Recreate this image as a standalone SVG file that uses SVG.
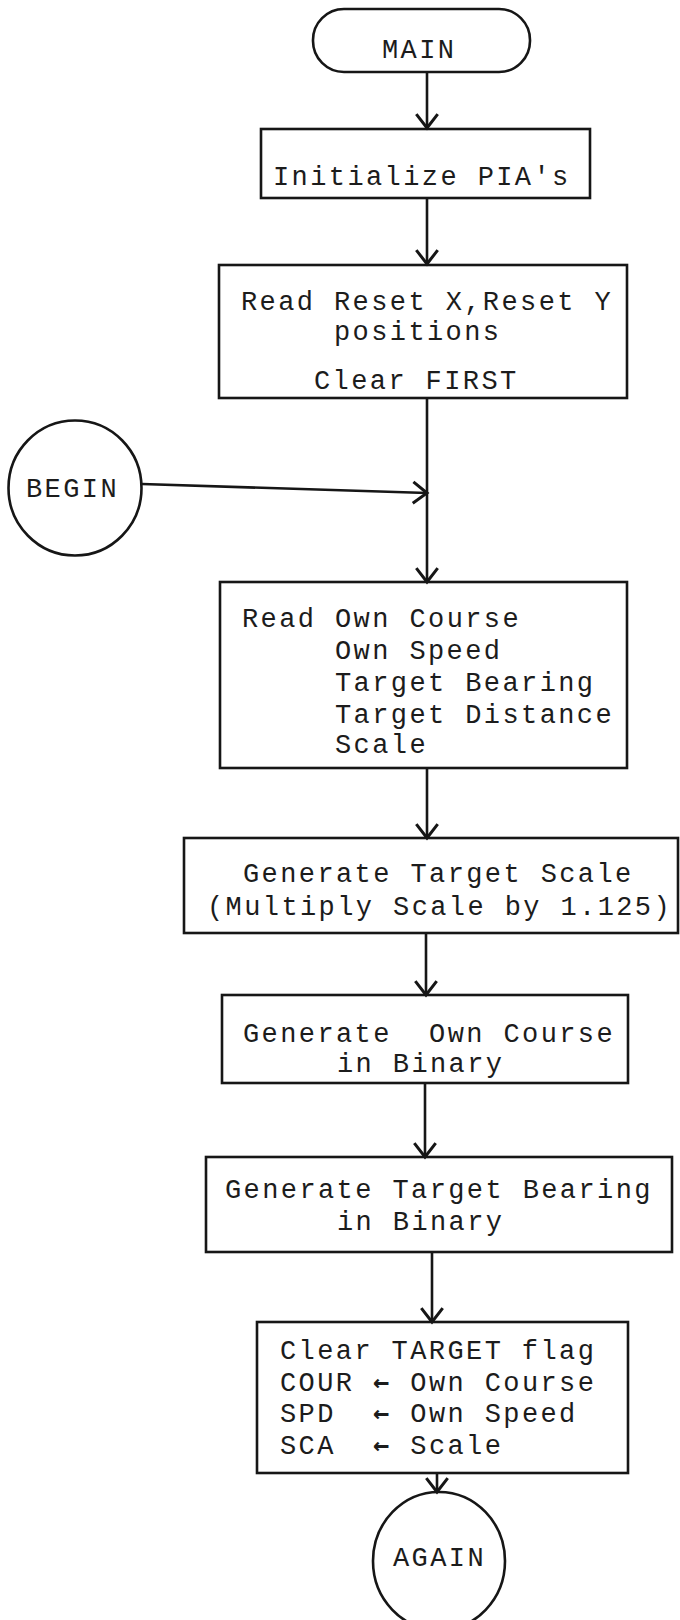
<svg xmlns="http://www.w3.org/2000/svg" width="680" height="1620" viewBox="0 0 680 1620">
  <style>
    .shape { fill: none; stroke: #161616; stroke-width: 2.6; }
    .edge { fill: none; stroke: #161616; stroke-width: 2.6; }
    .t { font-family: "Liberation Mono", "DejaVu Sans Mono", monospace; font-size: 27px; letter-spacing: 2.4px; fill: #1c1c1c; white-space: pre; }
    .arr { font-family: "DejaVu Sans Mono", monospace; font-weight: bold; }
  </style>
  <defs>
    <marker id="vhead" markerUnits="userSpaceOnUse" markerWidth="30" markerHeight="30" viewBox="-16 -14 20 28" refX="0" refY="0" orient="auto">
      <path d="M-13,-10 L0,0 L-13,10" fill="none" stroke="#161616" stroke-width="2.8" stroke-linejoin="miter"/>
    </marker>
  </defs>
  <rect width="680" height="1620" fill="#ffffff"/>

  <g id="connectors">
    <line class="edge" x1="427" y1="72" x2="427" y2="128" marker-end="url(#vhead)"/>
    <line class="edge" x1="427" y1="198" x2="427" y2="264" marker-end="url(#vhead)"/>
    <line class="edge" x1="427" y1="398" x2="427" y2="582" marker-end="url(#vhead)"/>
    <line class="edge" x1="142" y1="484" x2="427" y2="493" marker-end="url(#vhead)"/>
    <line class="edge" x1="427" y1="768" x2="427" y2="838" marker-end="url(#vhead)"/>
    <line class="edge" x1="426" y1="933" x2="426" y2="995" marker-end="url(#vhead)"/>
    <line class="edge" x1="425" y1="1083" x2="425" y2="1157" marker-end="url(#vhead)"/>
    <line class="edge" x1="432" y1="1252" x2="432" y2="1322" marker-end="url(#vhead)"/>
    <line class="edge" x1="437" y1="1473" x2="437" y2="1492" marker-end="url(#vhead)"/>
  </g>

  <g id="main">
    <rect class="shape" x="313" y="9" width="217" height="63" rx="31" ry="31"/>
    <text class="t" x="382" y="58">MAIN</text>
  </g>

  <g id="init">
    <rect class="shape" x="261" y="129" width="329" height="69"/>
    <text class="t" x="273" y="185">Initialize PIA's</text>
  </g>

  <g id="read-reset">
    <rect class="shape" x="219" y="265" width="408" height="133"/>
    <text class="t" x="241" y="310">Read Reset X,Reset Y</text>
    <text class="t" x="334" y="340">positions</text>
    <text class="t" x="314" y="389">Clear FIRST</text>
  </g>

  <g id="begin">
    <ellipse class="shape" cx="75" cy="488" rx="66.5" ry="67.5"/>
    <text class="t" x="26" y="497">BEGIN</text>
  </g>

  <g id="read-own">
    <rect class="shape" x="220" y="582" width="407" height="186"/>
    <text class="t" x="242" y="627">Read Own Course</text>
    <text class="t" x="335" y="659">Own Speed</text>
    <text class="t" x="335" y="691">Target Bearing</text>
    <text class="t" x="335" y="723">Target Distance</text>
    <text class="t" x="335" y="753">Scale</text>
  </g>

  <g id="gen-scale">
    <rect class="shape" x="184" y="838" width="494" height="95"/>
    <text class="t" x="243" y="882">Generate Target Scale</text>
    <text class="t" x="207" y="915">(Multiply Scale by 1.125)</text>
  </g>

  <g id="gen-course">
    <rect class="shape" x="222" y="995" width="406" height="88"/>
    <text class="t" x="243" y="1042">Generate  Own Course</text>
    <text class="t" x="337" y="1072">in Binary</text>
  </g>

  <g id="gen-bearing">
    <rect class="shape" x="206" y="1157" width="466" height="95"/>
    <text class="t" x="225" y="1198">Generate Target Bearing</text>
    <text class="t" x="337" y="1230">in Binary</text>
  </g>

  <g id="clear-target">
    <rect class="shape" x="257" y="1322" width="371" height="151"/>
    <text class="t" x="280" y="1359">Clear TARGET flag</text>
    <text class="t" x="280" y="1391">COUR <tspan class="arr">←</tspan> Own Course</text>
    <text class="t" x="280" y="1422">SPD  <tspan class="arr">←</tspan> Own Speed</text>
    <text class="t" x="280" y="1454">SCA  <tspan class="arr">←</tspan> Scale</text>
  </g>

  <g id="again">
    <ellipse class="shape" cx="439" cy="1561" rx="66" ry="69"/>
    <text class="t" x="393" y="1566">AGAIN</text>
  </g>
</svg>
